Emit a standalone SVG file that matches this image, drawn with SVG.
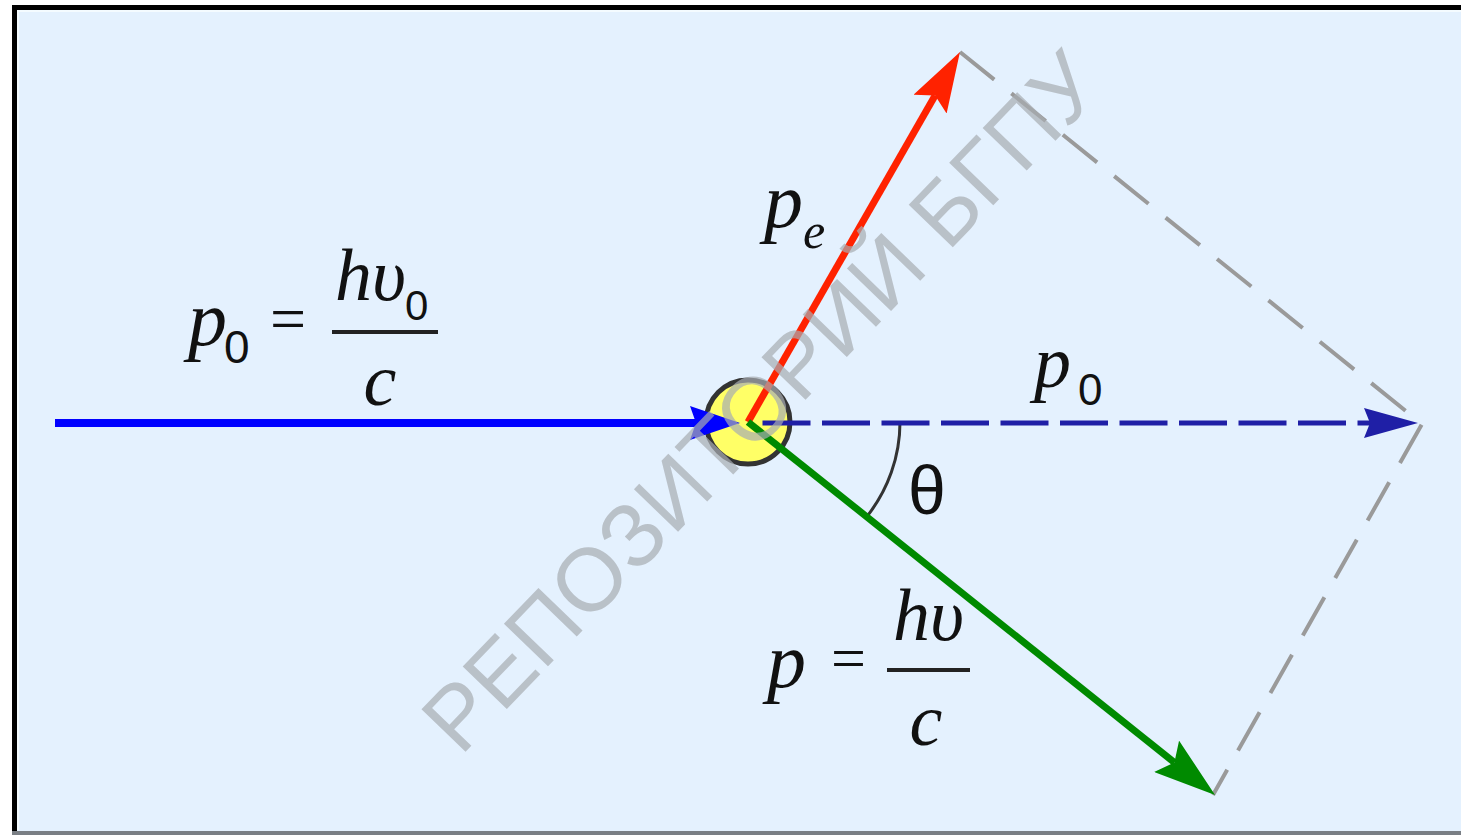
<svg xmlns="http://www.w3.org/2000/svg" width="1461" height="835" viewBox="0 0 1461 835">
<style>
.m{font-family:"Liberation Serif","Times New Roman",serif;font-style:italic;fill:#111}
.s{font-family:"Liberation Sans",Arial,sans-serif;fill:#111}
.r{font-family:"Liberation Serif","Times New Roman",serif;fill:#111}
.bar{stroke:#222;stroke-width:4}
.wm{font-family:"Liberation Sans",Arial,sans-serif;font-size:89px;fill:#a8adb2;opacity:0.7}
</style>
<defs>
<marker id="hBlue" markerUnits="userSpaceOnUse" viewBox="0 0 50 34" markerWidth="50" markerHeight="34" refX="6" refY="17" orient="auto"><path d="M0,0 L50,17 L0,34 L6,17 z" fill="#0000ff"/></marker>
<marker id="hNavy" markerUnits="userSpaceOnUse" viewBox="0 0 54 30" markerWidth="54" markerHeight="30" refX="6" refY="15" orient="auto"><path d="M0,0 L54,15 L0,30 L6,15 z" fill="#1f1fa6"/></marker>
<marker id="hRed" markerUnits="userSpaceOnUse" viewBox="0 0 60 38" markerWidth="60" markerHeight="38" refX="10" refY="19" orient="auto"><path d="M0,0 L60,19 L0,38 L10,19 z" fill="#ff2200"/></marker>
<marker id="hGreen" markerUnits="userSpaceOnUse" viewBox="0 0 62 40" markerWidth="62" markerHeight="40" refX="10" refY="20" orient="auto"><path d="M0,0 L62,20 L0,40 L10,20 z" fill="#008a00"/></marker>
</defs>
<rect x="0" y="0" width="1461" height="835" fill="#ffffff"/>
<rect x="15" y="9" width="1446" height="822" fill="#e4f1fe"/>
<line x1="12" y1="7.5" x2="1461" y2="7.5" stroke="#000" stroke-width="5"/>
<line x1="14.5" y1="5" x2="14.5" y2="835" stroke="#000" stroke-width="5"/>
<line x1="17" y1="11" x2="1461" y2="11" stroke="#f4fbff" stroke-width="2"/>
<line x1="18" y1="11" x2="18" y2="830" stroke="#f4fbff" stroke-width="2"/>
<line x1="12" y1="833" x2="1461" y2="833" stroke="#7a7f85" stroke-width="4"/>

<g id="connectors">
<path d="M960,52 L1422,424 L1213,795" fill="none" stroke="#9a9a9a" stroke-width="4" stroke-dasharray="44 22"/>
<path d="M900,422 A152,152 0 0 1 866.5,517" fill="none" stroke="#333" stroke-width="3"/>
</g>

<g id="particle">
<circle cx="748" cy="422" r="42" fill="#ffff66" stroke="#333" stroke-width="5"/>
</g>

<g id="vectors">
<line x1="55" y1="423" x2="696" y2="423" stroke="#0000ff" stroke-width="8" marker-end="url(#hBlue)"/>
<line x1="748" y1="423" x2="1370" y2="423" stroke="#1f1fa6" stroke-width="5" stroke-dasharray="48 11.5" stroke-dashoffset="45" marker-end="url(#hNavy)"/>
<line x1="748" y1="422" x2="935.1" y2="95.4" stroke="#ff2200" stroke-width="7" marker-end="url(#hRed)"/>
<line x1="748" y1="422" x2="1174.4" y2="762.5" stroke="#008a00" stroke-width="7" marker-end="url(#hGreen)"/>
</g>

<g id="label-p0-left">
<text class="m" x="188" y="345" font-size="78">p</text>
<text class="s" x="224" y="363" font-size="46">0</text>
<text class="r" x="270" y="340" font-size="64">=</text>
<line class="bar" x1="332" y1="332" x2="438" y2="332"/>
<text class="m" x="335" y="300" font-size="74">hυ</text>
<text class="s" x="405" y="320" font-size="42">0</text>
<text class="m" x="380" y="405" font-size="74" text-anchor="middle">c</text>
</g>

<g id="label-pe">
<text class="m" x="764" y="227" font-size="78">p</text>
<text class="m" x="803" y="248" font-size="50">e</text>
</g>

<g id="label-p0-right">
<text class="m" x="1034" y="387" font-size="74">p</text>
<text class="s" x="1078" y="405" font-size="44">0</text>
</g>

<g id="label-theta">
<text class="s" x="927" y="514" font-size="68" text-anchor="middle">θ</text>
</g>

<g id="label-p">
<text class="m" x="767" y="687" font-size="78">p</text>
<text class="r" x="831" y="679" font-size="62">=</text>
<line class="bar" x1="887" y1="670" x2="970" y2="670"/>
<text class="m" x="893" y="640" font-size="74">hυ</text>
<text class="m" x="926" y="745" font-size="74" text-anchor="middle">c</text>
</g>

<text class="wm" x="0" y="0" transform="translate(783,423) rotate(-46)" text-anchor="middle">РЕПОЗИТОРИЙ БГПУ</text>
</svg>
